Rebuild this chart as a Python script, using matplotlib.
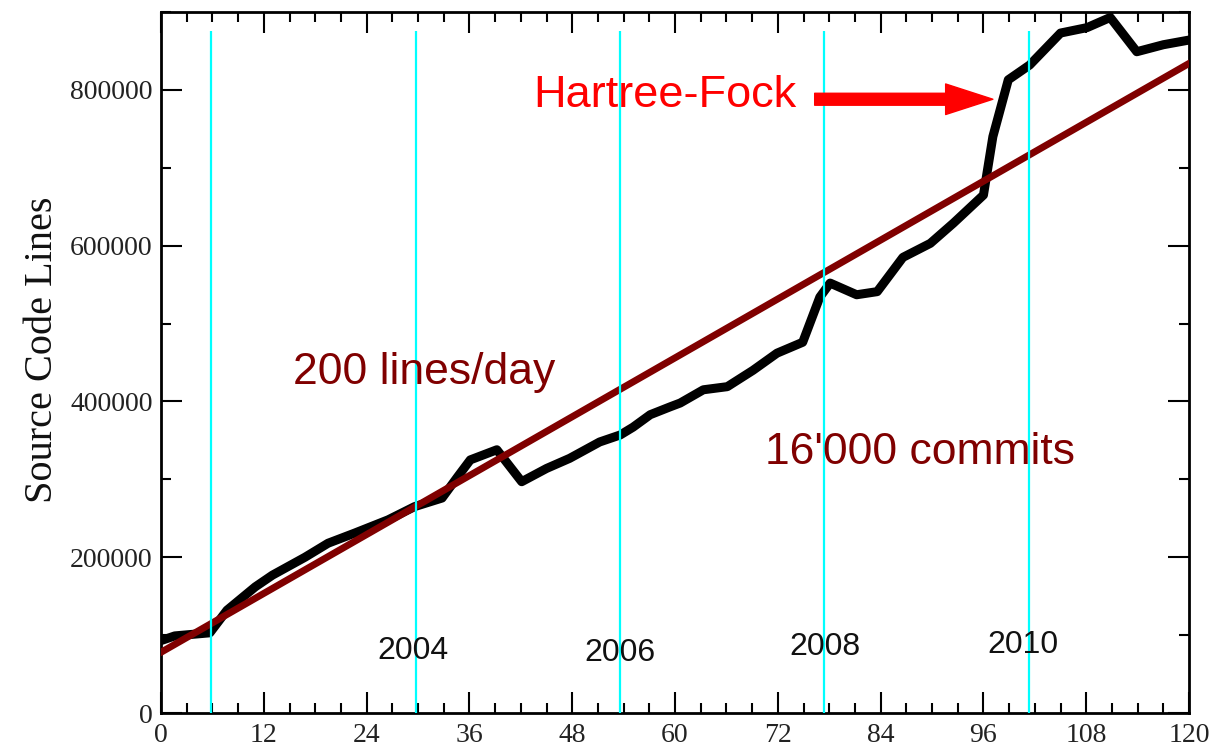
import numpy as np
import matplotlib
matplotlib.use("Agg")
import matplotlib.pyplot as plt
from matplotlib.ticker import MultipleLocator

# Source code size per month
months = [0, 1.6, 5.7, 7.7, 11, 13, 16.8, 19.5, 22.6, 26.5, 29.6, 32.8, 34.6, 36.1,
          39.2, 42.1, 45, 47.7, 51.2, 53.6, 55.1, 57.1, 59.4, 60.6, 63.3, 66.1,
          69.1, 71.9, 74.9, 76.9, 78.1, 81.2, 83.6, 86.6, 89.8, 92.5, 96, 97.1,
          98.9, 101.4, 105, 108.1, 110.8, 113.9, 117, 120]
lines = [93000, 99000, 103000, 132000, 162000, 177000, 200000, 218000, 231000,
         248000, 265000, 276000, 303000, 325000, 338000, 297000, 314000, 327000,
         348000, 357000, 367000, 383000, 393000, 398000, 415000, 419000, 440000,
         462000, 476000, 534000, 552000, 537000, 541000, 585000, 603000, 629000,
         665000, 740000, 813000, 832000, 873000, 880000, 893000, 849000, 858000,
         864000]

# 200 lines/day trend line end points
trend_x = [0, 120]
trend_y = [78000, 834000]

# year markers
year_x = [5.8, 29.8, 53.6, 77.4, 101.3]
year_labels = ["2004", "2006", "2008", "2010"]
year_label_x = [29.4, 53.6, 77.5, 100.6]
year_label_y = [79600, 77000, 84700, 87300]

fig = plt.figure(figsize=(12.09, 7.46), dpi=100)
ax = fig.add_axes([0.1332, 0.0442, 0.8503, 0.9397])

ax.plot(months, lines, color="black", lw=6.5, solid_joinstyle="round", zorder=2)
ax.plot(trend_x, trend_y, color="#800000", lw=5, zorder=3)
ax.vlines(year_x, 0, 875000, color="#00ffff", lw=1.6, zorder=4)

for xx, yy, lab in zip(year_label_x, year_label_y, year_labels):
    ax.text(xx, yy, lab, ha="center", va="center", fontsize=23,
            family="Liberation Sans", color="#111111", zorder=5)

# annotations
ax.text(30.7, 437000, "200 lines/day", ha="center", va="center", fontsize=32,
        family="Liberation Sans", color="#800000", zorder=5)
ax.text(88.6, 334000, "16'000 commits", ha="center", va="center", fontsize=32,
        family="Liberation Sans", color="#800000", zorder=5)
ax.text(58.8, 793000, "Hartree-Fock", ha="center", va="center", fontsize=32.5,
        family="Liberation Sans", color="red", zorder=5)
ax.annotate("", xy=(97.1, 788000), xytext=(76.3, 788000),
            arrowprops=dict(arrowstyle="simple,head_length=3.4,head_width=2.2,tail_width=0.86",
                            color="red", mutation_scale=10, shrinkA=0, shrinkB=0),
            zorder=5)

ax.set_xlim(0, 120)
ax.set_ylim(0, 900000)
ax.xaxis.set_major_locator(MultipleLocator(12))
ax.xaxis.set_minor_locator(MultipleLocator(3))
ax.yaxis.set_major_locator(MultipleLocator(200000))
ax.yaxis.set_minor_locator(MultipleLocator(100000))
ax.tick_params(which="both", direction="in", top=True, right=True, width=1.5,
               labelsize=20, labelcolor="#222222")
ax.tick_params(which="major", length=15)
ax.tick_params(which="minor", length=7.5)
ax.tick_params(axis="x", which="major", pad=7)
ax.tick_params(axis="y", which="major", pad=6)
for lab in ax.get_xticklabels() + ax.get_yticklabels():
    lab.set_family("Liberation Serif")
for sp in ax.spines.values():
    sp.set_linewidth(2)

ax.set_ylabel("Source Code Lines", family="Liberation Serif", fontsize=29,
              color="#111111")
ax.yaxis.set_label_coords(-0.097, 0.518)

fig.savefig("out.png", dpi=100)
